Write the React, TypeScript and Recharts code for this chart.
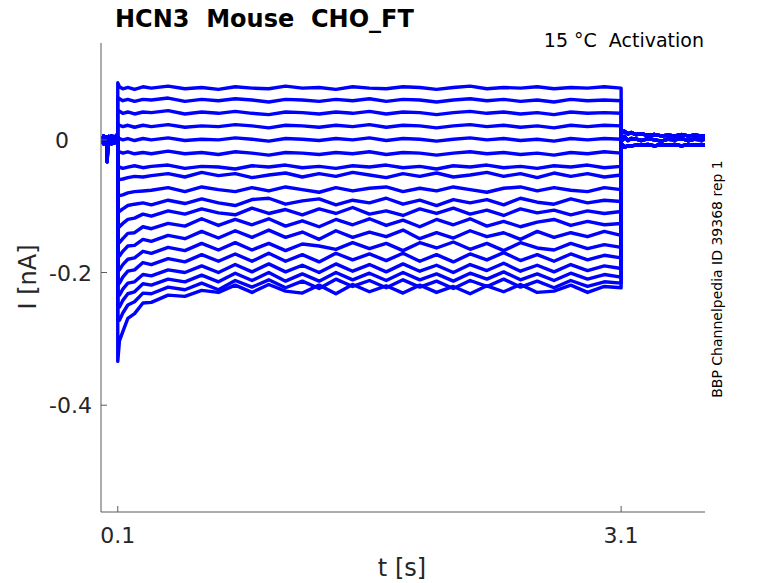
import { LineChart, Line, XAxis, YAxis } from 'recharts';

// All current values are in pA (axis is in nA).

// Holding period before the step: three noisy baselines with the short test dip
const PRE_T = [0, 0.008, 0.016, 0.024, 0.03, 0.034, 0.037, 0.04, 0.046, 0.054, 0.062, 0.07, 0.078, 0.086, 0.094, 0.0995];
const PRE_A = [5, -2, 6, 0, 4, 3, -33, -6, 5, -1, 6, 0, 5, -1, 7, 4];
const PRE_B = [-5, 1, -6, 0, -4, -3, -30, -5, -5, 1, -6, 0, -5, 1, -3, -2];
const PRE_C = [1, -4, 2, 3, -1, 0, -28, -2, 1, 4, -2, 3, -1, 4, 2, 1];

// Step period 0.1 – 3.1 s
const STEP_T = [
  0.1, 0.11, 0.13, 0.16, 0.2, 0.25, 0.3, 0.4, 0.5, 0.6, 0.7, 0.8, 0.9, 1.0, 1.1, 1.2, 1.3, 1.4,
  1.5, 1.6, 1.7, 1.8, 1.9, 2.0, 2.1, 2.2, 2.3, 2.4, 2.5, 2.6, 2.7, 2.8, 2.9, 3.0, 3.1,
];

const SWEEP_01 = [86, 80, 77, 79, 76, 80, 78, 81, 77, 79, 76, 80, 78, 77, 81, 78, 79, 76, 80, 78, 77, 80, 79, 76, 79, 81, 77, 79, 78, 80, 77, 79, 78, 80, 78];
const SWEEP_02 = [64, 62, 59, 61, 58, 61, 60, 63, 58, 61, 59, 62, 60, 57, 61, 60, 58, 61, 59, 62, 58, 61, 60, 57, 60, 62, 59, 61, 58, 60, 57, 61, 59, 60, 59];
const SWEEP_03 = [45, 43, 40, 42, 39, 42, 41, 44, 39, 42, 40, 43, 40, 38, 42, 41, 39, 42, 40, 43, 39, 42, 41, 38, 41, 43, 40, 42, 39, 41, 38, 42, 40, 41, 40];
const SWEEP_04 = [24, 22, 20, 22, 19, 22, 20, 23, 19, 21, 20, 23, 21, 18, 22, 21, 19, 22, 20, 23, 19, 22, 21, 18, 21, 23, 20, 22, 19, 21, 18, 22, 20, 22, 21];
const SWEEP_05 = [4, 2, 0, 2, -1, 2, 0, 3, -1, 1, 0, 3, 1, -2, 2, 1, -1, 2, 0, 3, -1, 2, 1, -2, 1, 3, 0, 2, -1, 1, -2, 2, 0, 2, 1];
const SWEEP_06 = [-16, -18, -20, -18, -21, -19, -21, -17, -21, -19, -22, -18, -20, -23, -19, -20, -22, -19, -21, -18, -22, -19, -20, -23, -20, -18, -21, -19, -22, -20, -23, -19, -21, -18, -20];
const SWEEP_07 = [-38, -41, -43, -41, -39, -42, -40, -38, -43, -40, -41, -44, -39, -41, -38, -42, -40, -43, -39, -41, -38, -42, -40, -44, -39, -41, -38, -42, -40, -43, -39, -41, -38, -42, -40];
const SWEEP_08 = [-56, -60, -59, -57, -55, -56, -54, -51, -56, -49, -54, -51, -57, -53, -50, -56, -51, -55, -49, -53, -57, -51, -55, -50, -56, -53, -49, -55, -51, -57, -50, -55, -51, -56, -53];
const SWEEP_09 = [-80, -84, -83, -80, -78, -77, -76, -72, -78, -71, -75, -78, -72, -77, -71, -75, -79, -72, -77, -73, -71, -78, -73, -77, -71, -75, -79, -73, -71, -77, -72, -76, -78, -72, -75];
const SWEEP_10 = [-100, -108, -104, -99, -97, -95, -98, -91, -96, -89, -95, -99, -90, -88, -97, -92, -89, -98, -91, -95, -88, -97, -91, -99, -90, -95, -90, -98, -88, -94, -97, -89, -95, -91, -93];
const SWEEP_11 = [-124, -131, -126, -120, -118, -112, -115, -107, -112, -104, -110, -113, -103, -111, -105, -113, -104, -111, -102, -112, -107, -114, -104, -111, -103, -112, -106, -114, -104, -110, -106, -113, -107, -111, -108];
const SWEEP_12 = [-148, -155, -149, -141, -140, -131, -134, -126, -130, -119, -129, -120, -128, -119, -130, -122, -131, -120, -128, -119, -129, -121, -131, -120, -128, -119, -130, -123, -131, -124, -120, -129, -123, -128, -126];
const SWEEP_13 = [-168, -175, -168, -160, -159, -150, -153, -144, -149, -138, -148, -137, -147, -136, -147, -139, -150, -137, -147, -139, -146, -136, -149, -140, -148, -137, -146, -140, -150, -138, -147, -140, -146, -138, -144];
const SWEEP_14 = [-188, -196, -188, -180, -178, -168, -171, -162, -167, -156, -166, -155, -166, -156, -167, -157, -160, -165, -155, -164, -156, -167, -155, -163, -154, -165, -156, -167, -155, -163, -166, -156, -164, -158, -162];
const SWEEP_15 = [-208, -216, -207, -198, -196, -185, -188, -179, -184, -173, -183, -172, -183, -171, -183, -173, -184, -171, -181, -172, -182, -171, -183, -173, -184, -172, -181, -170, -182, -173, -183, -172, -181, -174, -178];
const SWEEP_16 = [-226, -234, -225, -216, -214, -203, -205, -196, -200, -190, -200, -188, -199, -187, -199, -189, -200, -187, -198, -188, -199, -187, -198, -189, -200, -188, -197, -186, -198, -189, -199, -188, -197, -190, -194];
const SWEEP_17 = [-246, -252, -242, -232, -229, -217, -219, -210, -214, -204, -214, -201, -212, -200, -213, -202, -213, -200, -211, -201, -212, -200, -211, -202, -213, -201, -210, -199, -211, -202, -212, -201, -210, -203, -207];
const SWEEP_18 = [-272, -272, -261, -249, -244, -231, -232, -222, -226, -216, -226, -212, -222, -211, -223, -213, -224, -210, -221, -212, -223, -211, -222, -213, -224, -212, -221, -210, -222, -213, -223, -212, -221, -214, -216];
const SWEEP_19 = [-334, -303, -289, -269, -262, -246, -245, -234, -236, -227, -230, -219, -230, -218, -228, -231, -219, -232, -218, -229, -220, -231, -219, -230, -221, -232, -220, -229, -218, -230, -228, -219, -230, -221, -223];

// Return to holding after the step
const POST_T = [3.1005, 3.11, 3.12, 3.14, 3.16, 3.19, 3.22, 3.26, 3.3, 3.34, 3.38, 3.42, 3.46, 3.5, 3.54, 3.58, 3.6];
const POST_A = [16, 11, 13, 9, 11, 8, 9, 7, 8, 6, 7, 6, 8, 6, 7, 6, 6];
const POST_B = [-11, -8, -11, -9, -9, -8, -8, -7, -9, -7, -8, -7, -9, -7, -8, -7, -8];
const POST_C = [4, 0, 5, -1, 2, 1, -1, 2, 0, -2, 1, 0, 2, -1, 1, 0, 1];

const SWEEPS = [
  SWEEP_01, SWEEP_02, SWEEP_03, SWEEP_04, SWEEP_05, SWEEP_06, SWEEP_07, SWEEP_08, SWEEP_09, SWEEP_10,
  SWEEP_11, SWEEP_12, SWEEP_13, SWEEP_14, SWEEP_15, SWEEP_16, SWEEP_17, SWEEP_18, SWEEP_19,
];
const PRES = [PRE_A, PRE_B, PRE_C];
const POSTS = [POST_A, POST_B, POST_C];

const X_TICKS = [0.1, 3.1];
const Y_TICKS = [-0.4, -0.2, 0];

const TIMES = [...PRE_T, ...STEP_T, ...POST_T];
const rows = TIMES.map((t, i) => {
  const row: Record<string, number> = { t };
  SWEEPS.forEach((sweep, k) => {
    let v: number;
    if (i < PRE_T.length) v = PRES[k % 3][i];
    else if (i < PRE_T.length + STEP_T.length) v = sweep[i - PRE_T.length];
    else v = POSTS[k % 3][i - PRE_T.length - STEP_T.length];
    row[`s${k}`] = v / 1000;
  });
  return row;
});

const FONT = '"DejaVu Sans", sans-serif';
const AXIS = '#5a5a5a';
const TEXT = '#262626';
const PLOT = { left: 101, top: 43, right: 705, bottom: 512 };

function XTick(props: any) {
  const { x, payload } = props;
  return (
    <g>
      <line x1={x} x2={x} y1={PLOT.bottom} y2={PLOT.bottom - 6} stroke={AXIS} />
      <text x={x} y={PLOT.bottom + 31} textAnchor="middle" fontSize={22} fill={TEXT} fontFamily={FONT}>
        {String(payload.value)}
      </text>
    </g>
  );
}

function YTick(props: any) {
  const { y, payload } = props;
  const tx = payload.value === 0 ? 69 : 92;
  return (
    <g>
      <line x1={PLOT.left} x2={PLOT.left + 6} y1={y} y2={y} stroke={AXIS} />
      <text x={tx} y={y + 8} textAnchor="end" fontSize={22} fill={TEXT} fontFamily={FONT}>
        {String(payload.value)}
      </text>
    </g>
  );
}

export default function App() {
  return (
    <div style={{ position: 'absolute', left: 0, top: 0, width: 778, height: 583, background: '#fff' }}>
      <LineChart
        width={778}
        height={583}
        data={rows}
        margin={{ top: PLOT.top, right: 778 - PLOT.right, bottom: 583 - PLOT.bottom - 30, left: PLOT.left - 60 }}
      >
        <XAxis
          dataKey="t"
          type="number"
          domain={[0, 3.6]}
          ticks={X_TICKS}
          height={30}
          axisLine={{ stroke: AXIS }}
          tickLine={false}
          tick={<XTick />}
          allowDataOverflow
        />
        <YAxis
          type="number"
          domain={[-0.561, 0.146]}
          ticks={Y_TICKS}
          width={60}
          axisLine={{ stroke: AXIS }}
          tickLine={false}
          tick={<YTick />}
          allowDataOverflow
        />
        {SWEEPS.map((_, k) => (
          <Line
            key={k}
            type="linear"
            dataKey={`s${k}`}
            stroke="#0000ff"
            strokeWidth={3.4}
            strokeLinejoin="round"
            dot={false}
            isAnimationActive={false}
          />
        ))}
      </LineChart>
      <svg
        width={778}
        height={583}
        style={{ position: 'absolute', left: 0, top: 0, pointerEvents: 'none' }}
        fontFamily={FONT}
      >
        <text x={115} y={27} fontSize={24} fontWeight="bold" fill="#000" style={{ whiteSpace: 'pre' }}>
          HCN3  Mouse  CHO_FT
        </text>
        <text x={704} y={47} fontSize={19} textAnchor="end" fill="#000" style={{ whiteSpace: 'pre' }}>
          15 °C  Activation
        </text>
        <text x={402} y={576} fontSize={24} textAnchor="middle" fill={TEXT}>
          t [s]
        </text>
        <text x={36} y={277} fontSize={24} textAnchor="middle" fill={TEXT} transform="rotate(-90 36 277)">
          I [nA]
        </text>
        <text
          x={717}
          y={279}
          fontSize={14}
          textAnchor="middle"
          dominantBaseline="central"
          fill="#000"
          transform="rotate(-90 717 279)"
        >
          BBP Channelpedia ID 39368 rep 1
        </text>
      </svg>
    </div>
  );
}
